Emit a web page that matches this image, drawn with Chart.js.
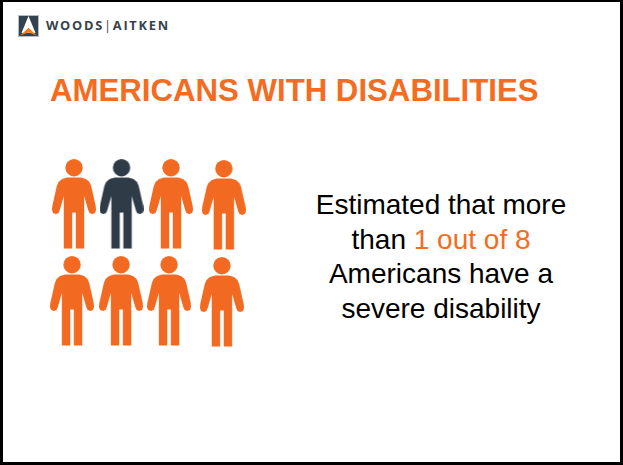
<!DOCTYPE html>
<html>
<head>
<meta charset="utf-8">
<title>Americans with disabilities</title>
<script src="https://cdn.jsdelivr.net/npm/chart.js@4"></script>
<style>
    html, body { margin: 0; padding: 0; background: #fff; }
    #slide {
        position: relative;
        width: 623px;
        height: 465px;
        box-sizing: border-box;
        overflow: hidden;
        font-family: "Liberation Sans", Arial, sans-serif;
    }
    #frame {
        position: absolute;
        left: 0; top: 0; right: 0; bottom: 0;
        border: solid #000;
        border-width: 2px 3px 3px 3px;
        pointer-events: none;
    }
    #logo { position: absolute; left: 18px; top: 15px; }
    #brand {
        position: absolute;
        left: 46px;
        top: 18px;
        font: 700 12.8px/15px "Open Sans", sans-serif;
        letter-spacing: 1.75px;
        color: #34424e;
        white-space: nowrap;
    }
    #brand i { font-style: normal; font-weight: 400; }
    #title {
        position: absolute;
        left: 50px;
        top: 74px;
        font-weight: 700;
        font-size: 31.2px;
        line-height: 34px;
        color: #f36c21;
        white-space: nowrap;
    }
    #note {
        position: absolute;
        left: 291px;
        width: 300px;
        top: 188px;
        text-align: center;
        font-size: 28px;
        line-height: 34.7px;
        color: #000;
    }
    #note span { color: #f36c21; }
    #people { position: absolute; left: 20px; top: 150px; width: 240px; height: 205px; }
</style>
</head>
<body>
<div id="slide">
    <svg id="logo" width="21" height="22" viewBox="0 0 21 22">
        <rect x="0.5" y="0.5" width="20" height="21" fill="#34424e" stroke="#b4bbc1"/>
        <path d="M10.5 1 L17.5 18 L3.5 18 Z" fill="#fff"/>
        <path d="M10.5 12.7 L18.8 20.5 L10.5 17.5 L2.2 20.5 Z" fill="#f47a1f"/>
    </svg>
    <div id="brand">WOODS<i>|</i>AITKEN</div>
    <div id="title">AMERICANS WITH DISABILITIES</div>
    <div id="people"><canvas id="people-chart" width="240" height="205"></canvas></div>
    <div id="note">Estimated that more<br>than <span>1 out of 8</span><br>Americans have a<br>severe disability</div>
    <div id="frame"></div>
</div>
<script>
    // column and row of each figure, the hand-placed grid is slightly uneven
    const affectedColumn = [1.98];
    const affectedRow = [1];
    const otherColumn = [1, 3, 4.09, 0.96, 1.97, 2.96, 4.05];
    const otherRow = [1, 1, 1.01, 2, 2, 2, 2.01];

    const toPoints = (xs, ys) => xs.map((x, i) => ({ x: x, y: ys[i] }));

    // one half of the body outline, mirrored around the middle of the icon
    const bodyHalf = [
        [22, 18.5], [15, 18.6], [10, 20], [6.5, 23], [4.8, 27],
        [0.3, 47], [0, 51], [1, 54], [3.8, 55], [6.5, 54], [7.8, 51],
        [11.8, 37], [11.8, 89.5], [20.2, 89.5], [20.2, 53.5], [22, 53.5]
    ];

    const makeFigure = (color) => {
        const icon = document.createElement('canvas');
        icon.width = 44;
        icon.height = 90;
        const ctx = icon.getContext('2d');
        ctx.fillStyle = color;
        ctx.beginPath();
        ctx.arc(22, 8.7, 8.7, 0, Math.PI * 2);
        ctx.fill();
        ctx.beginPath();
        bodyHalf.forEach(p => ctx.lineTo(p[0], p[1]));
        bodyHalf.slice().reverse().forEach(p => ctx.lineTo(44 - p[0], p[1]));
        ctx.closePath();
        ctx.fill();
        return icon;
    };

    new Chart(document.getElementById('people-chart').getContext('2d'), {
        type: 'scatter',
        data: {
            datasets: [
                {
                    label: 'Severe disability',
                    data: toPoints(affectedColumn, affectedRow),
                    pointStyle: makeFigure('#2f3c48'),
                    clip: false
                },
                {
                    label: 'Others',
                    data: toPoints(otherColumn, otherRow),
                    pointStyle: makeFigure('#f26a21'),
                    clip: false
                }
            ]
        },
        options: {
            responsive: false,
            animation: false,
            layout: { padding: 0, autoPadding: false },
            plugins: {
                legend: { display: false },
                tooltip: { enabled: false }
            },
            scales: {
                x: { type: 'linear', display: false, min: -0.113, max: 4.835 },
                y: { type: 'linear', display: false, reverse: true, min: 0.443, max: 2.557 }
            }
        }
    });
</script>
</body>
</html>
